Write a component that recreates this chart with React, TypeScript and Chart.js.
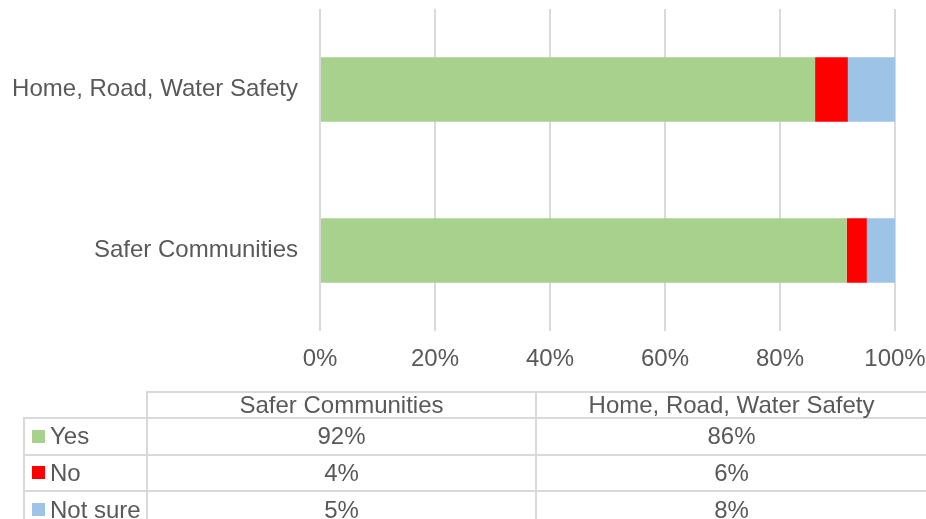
import React, { useEffect, useRef } from "react";
import { Chart, registerables } from "chart.js";

Chart.register(...registerables);

const categories = ["Safer Communities", "Home, Road, Water Safety"];
const seriesNames = ["Yes", "No", "Not sure"];
const yesValues = [91.6, 86.1];
const noValues = [3.5, 5.7];
const notSureValues = [4.9, 8.2];
const seriesColors = ["#A9D18E", "#FF0000", "#9DC3E6"];
const xTickStep = 20;

const FONT = "'Liberation Sans', Arial, sans-serif";
const TEXT = "#595959";
const LINE = "#d9d9d9";

const W = 926;
const H = 519;

function HLine({ x1, x2, y }: { x1: number; x2: number; y: number }) {
  return (
    <div
      style={{ position: "absolute", left: x1, top: y - 1, width: x2 - x1, height: 2, background: LINE }}
    />
  );
}
function VLine({ x, y1, y2 }: { x: number; y1: number; y2: number }) {
  return (
    <div
      style={{ position: "absolute", left: x - 1, top: y1, width: 2, height: y2 - y1, background: LINE }}
    />
  );
}

function Cell({ x1, x2, y1, y2, children }: any) {
  return (
    <div
      style={{
        position: "absolute",
        left: x1,
        top: y1,
        width: x2 - x1,
        height: y2 - y1,
        display: "flex",
        alignItems: "center",
        justifyContent: "center",
        fontFamily: FONT,
        fontSize: 24,
        color: TEXT,
        whiteSpace: "nowrap",
        lineHeight: 1,
      }}
    >
      {children}
    </div>
  );
}

function zeroPad(s: any) {
  s.paddingTop = 0;
  s.paddingBottom = 0;
  s.paddingLeft = 0;
  s.paddingRight = 0;
}

export default function App() {
  const ref = useRef<HTMLCanvasElement | null>(null);

  useEffect(() => {
    if (!ref.current) return;
    const values = [yesValues, noValues, notSureValues];
    const chart = new Chart(ref.current, {
      type: "bar",
      data: {
        labels: categories,
        datasets: seriesNames.map((name, i) => ({
          label: name,
          data: values[i],
          backgroundColor: seriesColors[i],
          borderWidth: 0,
          categoryPercentage: 0.8,
          barPercentage: 0.5,
        })),
      },
      options: {
        indexAxis: "y",
        responsive: false,
        animation: false,
        layout: { padding: { left: 0, top: 9, right: 31, bottom: H - 331 - 50 } },
        plugins: { legend: { display: false }, tooltip: { enabled: false } },
        scales: {
          x: {
            stacked: true,
            min: 0,
            max: 100,
            ticks: {
              stepSize: xTickStep,
              callback: (v: any) => v + "%",
              color: TEXT,
              font: { size: 24, family: FONT },
              padding: 14,
              maxRotation: 0,
              autoSkip: false,
            },
            grid: { color: LINE, lineWidth: 2, drawTicks: false },
            border: { display: false },
            afterFit: (s: any) => {
              s.height = 50;
              zeroPad(s);
            },
          },
          y: {
            stacked: true,
            reverse: true,
            ticks: { color: TEXT, font: { size: 24, family: FONT }, padding: 22 },
            grid: { display: false, drawTicks: false },
            border: { display: false },
            afterFit: (s: any) => {
              s.width = 320;
              zeroPad(s);
            },
          },
        },
      },
    });
    return () => chart.destroy();
  }, []);

  const colX = [24, 147, 536, 927];
  const rowY = [392, 418, 454.5, 491, 528];
  const values = [yesValues, noValues, notSureValues];

  return (
    <div style={{ position: "fixed", left: 0, top: 0, width: W, height: H, background: "#fff", overflow: "hidden" }}>
      <canvas ref={ref} width={W} height={H} style={{ position: "absolute", left: 0, top: 0, width: W, height: H }} />
      <HLine x1={colX[1] - 1} x2={W} y={rowY[0]} />
      {rowY.slice(1, 4).map((y, i) => (
        <HLine key={"h" + i} x1={colX[0] - 1} x2={W} y={y} />
      ))}
      <VLine x={colX[0]} y1={rowY[1] - 1} y2={H} />
      <VLine x={colX[1]} y1={rowY[0] - 1} y2={H} />
      <VLine x={colX[2]} y1={rowY[0] - 1} y2={H} />
      {categories.map((c, j) => (
        <Cell key={"hc" + j} x1={colX[j + 1]} x2={colX[j + 2]} y1={rowY[0]} y2={rowY[1]}>
          {c}
        </Cell>
      ))}
      {seriesNames.map((name, i) => (
        <React.Fragment key={"r" + i}>
          <div
            style={{
              position: "absolute",
              left: 32,
              top: (rowY[i + 1] + rowY[i + 2]) / 2 - 6.5,
              width: 13,
              height: 13,
              background: seriesColors[i],
            }}
          />
          <div
            style={{
              position: "absolute",
              left: 50,
              top: rowY[i + 1],
              height: rowY[i + 2] - rowY[i + 1],
              display: "flex",
              alignItems: "center",
              fontFamily: FONT,
              fontSize: 24,
              color: TEXT,
              whiteSpace: "nowrap",
              lineHeight: 1,
            }}
          >
            {name}
          </div>
          {categories.map((_, j) => (
            <Cell key={"c" + i + j} x1={colX[j + 1]} x2={colX[j + 2]} y1={rowY[i + 1]} y2={rowY[i + 2]}>
              {Math.round(values[i][j]) + "%"}
            </Cell>
          ))}
        </React.Fragment>
      ))}
    </div>
  );
}
